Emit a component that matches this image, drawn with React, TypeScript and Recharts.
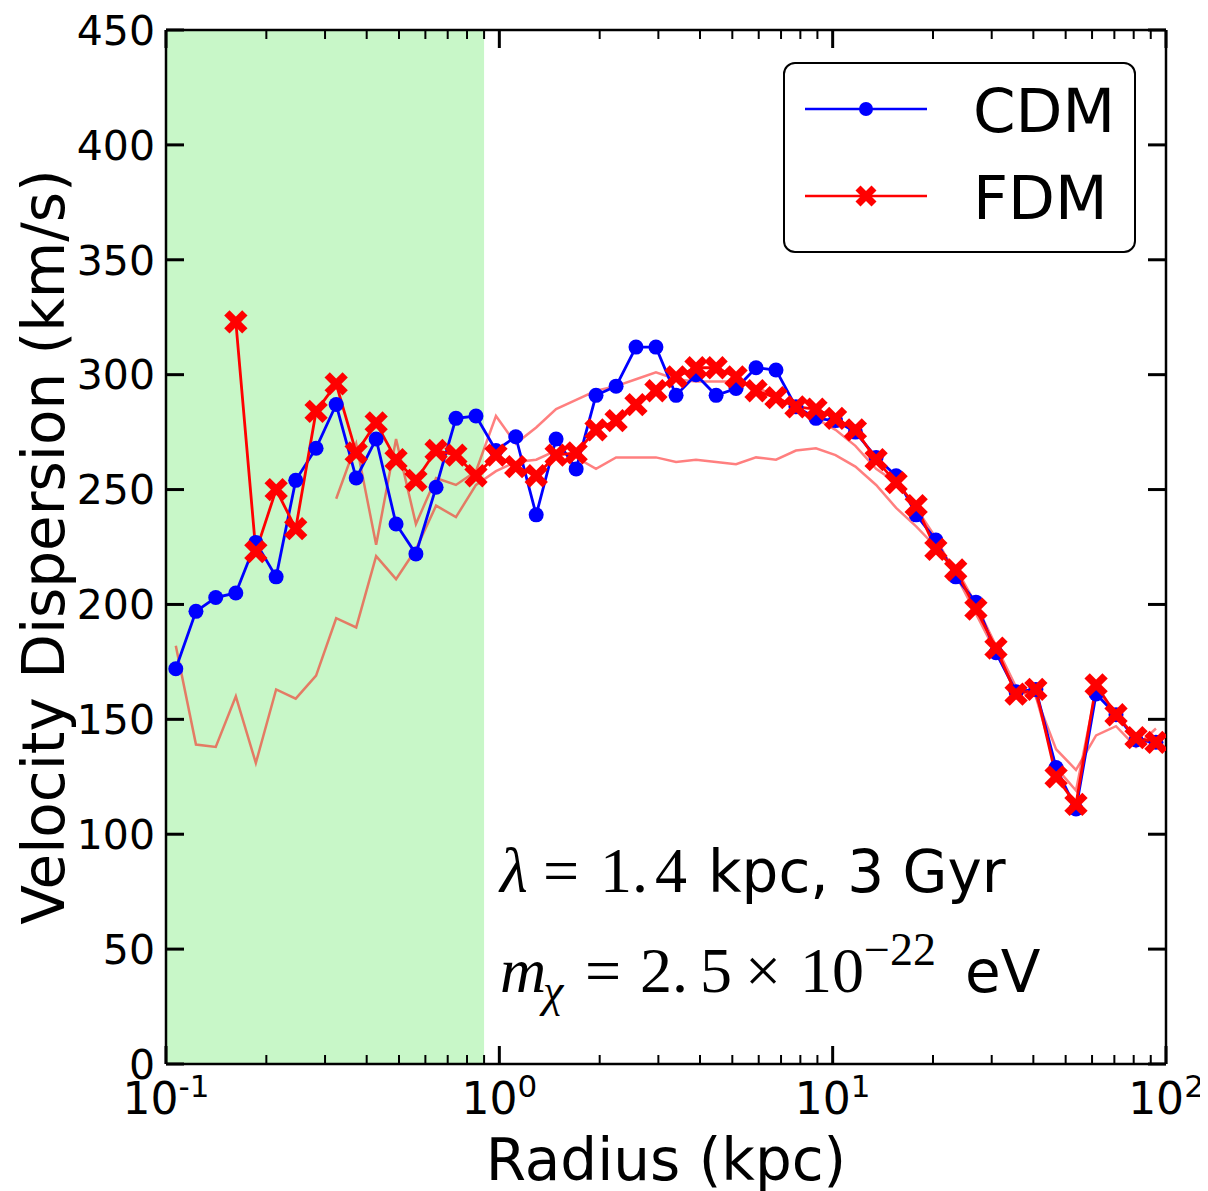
import React from "react";
import { ComposedChart, Line, XAxis, YAxis, ReferenceArea, Legend } from "recharts";

// radius bins (kpc), evenly spaced in log
const radius = [
  0.107, 0.123, 0.141, 0.162, 0.186, 0.214, 0.245, 0.282, 0.324, 0.372, 0.427, 0.49,
  0.562, 0.646, 0.741, 0.851, 0.977,
  1.12, 1.29, 1.48, 1.7, 1.95, 2.24, 2.57, 2.95, 3.39, 3.89, 4.47, 5.13, 5.89, 6.76, 7.76, 8.91,
  10.2, 11.7, 13.5, 15.5, 17.8, 20.4, 23.4, 26.9, 30.9, 35.5, 40.7, 46.8, 53.7, 61.7, 70.8, 81.3, 93.3,
];

const cdm = [
  172, 197, 203, 205, 227, 212, 254, 268, 287, 255,
  272, 235, 222, 251, 281, 282, 267, 273, 239, 272,
  259, 291, 295, 312, 312, 291, 300, 291, 294, 303,
  302, 286, 281, 280, 275, 264, 256, 239, 228, 212,
  201, 179, 162, 163, 129, 111, 161, 152, 141, 140,
];

const fdm = [
  null, null, null, 323, 223, 250, 233, 284, 296, 266,
  279, 263, 254, 267, 265, 256, 265, 260, 256, 265,
  266, 276, 280, 287, 293, 299, 303, 303, 299, 293,
  290, 286, 285, 281, 276, 263, 253, 243, 224, 215,
  198, 181, 161, 163, 125, 113, 165, 152, 142, 140,
];

// faint FDM runs
const fdmRunA = [
  182, 139, 138, 160, 131, 163, 159, 169, 194, 190,
  221, 211, 224, 243, 238, 252, 258, 262, 263, 267,
  264, 259, 264, 264, 264, 262, 263, 262, 261, 264,
  263, 267, 268, 265, 260, 252, 242, 234, 225, 216,
  200, 182, 164, 160, 137, 128, 143, 147, 138, 146,
];

const fdmRunB = [
  null, null, null, null, null, null, null, null, 246, 270,
  226, 272, 235, 255, 252, 258, 282, 270, 277, 285,
  289, 293, 295, 298, 301, 298, 297, 297, 297, 295,
  290, 286, 281, 276, 269, 259, 253, 242, 229, 213,
  196, 179, 162, 160, 129, 119, 163, 153, 141, 140,
];

const xTicks = [
  0.1, 0.2, 0.3, 0.4, 0.5, 0.6, 0.7, 0.8, 0.9,
  1, 2, 3, 4, 5, 6, 7, 8, 9,
  10, 20, 30, 40, 50, 60, 70, 80, 90, 100,
];
const yTicks = [0, 50, 100, 150, 200, 250, 300, 350, 400, 450];
const shadedMax = 0.9;

const data = radius.map((r, i) => ({
  r,
  cdm: cdm[i],
  fdm: fdm[i],
  runA: fdmRunA[i],
  runB: fdmRunB[i],
}));

const SANS = "DejaVu Sans";
const SERIF = "Liberation Serif";

const isMajor = (v: number) => Math.abs(Math.log10(v) - Math.round(Math.log10(v))) < 1e-6;

function BottomTick({ x, y, payload }: any) {
  const v = payload.value;
  const major = isMajor(v);
  const exp = Math.round(Math.log10(v));
  return (
    <g>
      <line x1={x} x2={x} y1={y} y2={y - (major ? 18 : 9)} stroke="#000" strokeWidth={major ? 3 : 2} />
      {major && (
        <text x={x} y={y + 50} textAnchor="middle" fontFamily={SANS} fontSize={44} fill="#000">
          10
          <tspan dy={-17} fontSize={31}>{exp < 0 ? "-" + -exp : String(exp)}</tspan>
        </text>
      )}
    </g>
  );
}

function TopTick({ x, y, payload }: any) {
  const major = isMajor(payload.value);
  return <line x1={x} x2={x} y1={y} y2={y + (major ? 18 : 9)} stroke="#000" strokeWidth={major ? 3 : 2} />;
}

function LeftTick({ x, y, payload }: any) {
  return (
    <g>
      <line x1={x} x2={x + 18} y1={y} y2={y} stroke="#000" strokeWidth={3} />
      <text x={x - 11} y={y} dy="0.36em" textAnchor="end" fontFamily={SANS} fontSize={41} fill="#000">
        {payload.value}
      </text>
    </g>
  );
}

function RightTick({ x, y }: any) {
  return <line x1={x} x2={x - 18} y1={y} y2={y} stroke="#000" strokeWidth={3} />;
}

function XMark({ cx, cy, size = 9, width = 7.5 }: any) {
  if (cx == null || cy == null) return null;
  return (
    <g>
      <line x1={cx - size} y1={cy - size} x2={cx + size} y2={cy + size} stroke="#ff0000" strokeWidth={width} />
      <line x1={cx - size} y1={cy + size} x2={cx + size} y2={cy - size} stroke="#ff0000" strokeWidth={width} />
    </g>
  );
}

function LegendBox({ payload }: any) {
  const items = (payload || []).filter((p: any) => p.value === "CDM" || p.value === "FDM");
  return (
    <div
      style={{
        width: 353,
        height: 191,
        boxSizing: "border-box",
        border: "2px solid #000",
        borderRadius: 12,
        background: "#fff",
      }}
    >
      <svg width={349} height={187}>
        {items.map((p: any, i: number) => {
          const cy = 45 + i * 87;
          return (
            <g key={p.value}>
              <line x1={20} x2={142} y1={cy} y2={cy} stroke={p.color} strokeWidth={2.5} />
              {p.value === "CDM" ? (
                <circle cx={81} cy={cy} r={7} fill="#0000ff" />
              ) : (
                <XMark cx={81} cy={cy} size={8} width={7} />
              )}
              <text x={188} y={cy + 23} fontFamily={SANS} fontSize={61} fill="#000">
                {p.value}
              </text>
            </g>
          );
        })}
      </svg>
    </div>
  );
}

export default function App() {
  return (
    <div style={{ position: "relative", width: 1200, height: 1183, background: "#fff" }}>
      <ComposedChart
        width={1200}
        height={1183}
        data={data}
        margin={{ top: 12, right: 32, bottom: 27, left: 58 }}
      >
        <XAxis
          dataKey="r"
          type="number"
          scale="log"
          domain={[0.1, 100]}
          allowDataOverflow
          ticks={xTicks}
          interval={0}
          tickSize={0}
          tickMargin={0}
          tickLine={false}
          tick={<BottomTick />}
          height={100}
          axisLine={{ stroke: "#000", strokeWidth: 2.5 }}
          label={(props: any) => {
            const vb = props.viewBox;
            return (
              <text
                x={vb.x + vb.width / 2}
                y={vb.y + 116}
                textAnchor="middle"
                fontFamily={SANS}
                fontSize={58}
                fill="#000"
              >
                Radius (kpc)
              </text>
            );
          }}
        />
        <XAxis
          xAxisId="top"
          orientation="top"
          dataKey="r"
          type="number"
          scale="log"
          domain={[0.1, 100]}
          allowDataOverflow
          ticks={xTicks}
          interval={0}
          tickSize={0}
          tickMargin={0}
          tickLine={false}
          tick={<TopTick />}
          height={10}
          axisLine={{ stroke: "#000", strokeWidth: 2.5 }}
        />
        <YAxis
          type="number"
          domain={[0, 450]}
          allowDataOverflow
          ticks={yTicks}
          interval={0}
          tickSize={0}
          tickMargin={0}
          tickLine={false}
          tick={<LeftTick />}
          width={100}
          axisLine={{ stroke: "#000", strokeWidth: 2.5 }}
          label={(props: any) => {
            const vb = props.viewBox;
            const cx = vb.x - 2;
            const cy = vb.y + vb.height / 2;
            return (
              <text
                x={cx}
                y={cy}
                transform={`rotate(-90, ${cx}, ${cy})`}
                textAnchor="middle"
                fontFamily={SANS}
                fontSize={58}
                fill="#000"
              >
                Velocity Dispersion (km/s)
              </text>
            );
          }}
        />
        <YAxis
          yAxisId="right"
          orientation="right"
          type="number"
          domain={[0, 450]}
          allowDataOverflow
          ticks={yTicks}
          interval={0}
          tickSize={0}
          tickMargin={0}
          tickLine={false}
          tick={<RightTick />}
          width={10}
          axisLine={{ stroke: "#000", strokeWidth: 2.5 }}
        />
        <ReferenceArea x1={0.1} x2={shadedMax} fill="#c8f7c8" fillOpacity={1} stroke="none" />
        <Line
          dataKey="runA"
          stroke="#ff0000"
          strokeOpacity={0.5}
          strokeWidth={2.5}
          dot={false}
          activeDot={false}
          legendType="none"
          isAnimationActive={false}
        />
        <Line
          dataKey="runB"
          stroke="#ff0000"
          strokeOpacity={0.5}
          strokeWidth={2.5}
          dot={false}
          activeDot={false}
          legendType="none"
          isAnimationActive={false}
        />
        <Line
          name="CDM"
          dataKey="cdm"
          stroke="#0000ff"
          strokeWidth={2.8}
          dot={{ r: 7.5, fill: "#0000ff", stroke: "none" }}
          activeDot={false}
          isAnimationActive={false}
        />
        <Line
          name="FDM"
          dataKey="fdm"
          stroke="#ff0000"
          strokeWidth={2.8}
          dot={(p: any) => <XMark key={`x-${p.index}`} cx={p.value == null ? null : p.cx} cy={p.cy} />}
          activeDot={false}
          isAnimationActive={false}
        />
        <Legend
          layout="vertical"
          align="center"
          verticalAlign="middle"
          content={<LegendBox />}
          wrapperStyle={{ left: 775, top: 54, width: 353, height: 191 }}
        />
      </ComposedChart>
      <svg
        width={1200}
        height={1183}
        style={{ position: "absolute", left: 0, top: 0, pointerEvents: "none" }}
      >
        <text y={884} fill="#000">
          <tspan x={492} fontFamily={SERIF} fontStyle="italic" fontSize={64}>λ</tspan>
          <tspan x={535} fontFamily={SERIF} fontSize={64}>=</tspan>
          <tspan x={592} fontFamily={SERIF} fontSize={64}>1.</tspan>
          <tspan x={647} fontFamily={SERIF} fontSize={64}>4</tspan>
          <tspan x={700} fontFamily={SANS} fontSize={58}>kpc, 3 Gyr</tspan>
        </text>
        <text y={984} fill="#000">
          <tspan x={492} fontFamily={SERIF} fontStyle="italic" fontSize={64}>m</tspan>
          <tspan x={535} y={998} fontFamily={SERIF} fontStyle="italic" fontSize={46}>χ</tspan>
          <tspan x={577} y={984} fontFamily={SERIF} fontSize={64}>=</tspan>
          <tspan x={632} fontFamily={SERIF} fontSize={64}>2.</tspan>
          <tspan x={692} fontFamily={SERIF} fontSize={64}>5</tspan>
          <tspan x={737} fontFamily={SERIF} fontSize={64}>×</tspan>
          <tspan x={792} fontFamily={SERIF} fontSize={64}>10</tspan>
          <tspan x={856} y={957} fontFamily={SERIF} fontSize={46}>−22</tspan>
          <tspan x={957} y={984} fontFamily={SANS} fontSize={58}>eV</tspan>
        </text>
      </svg>
    </div>
  );
}
